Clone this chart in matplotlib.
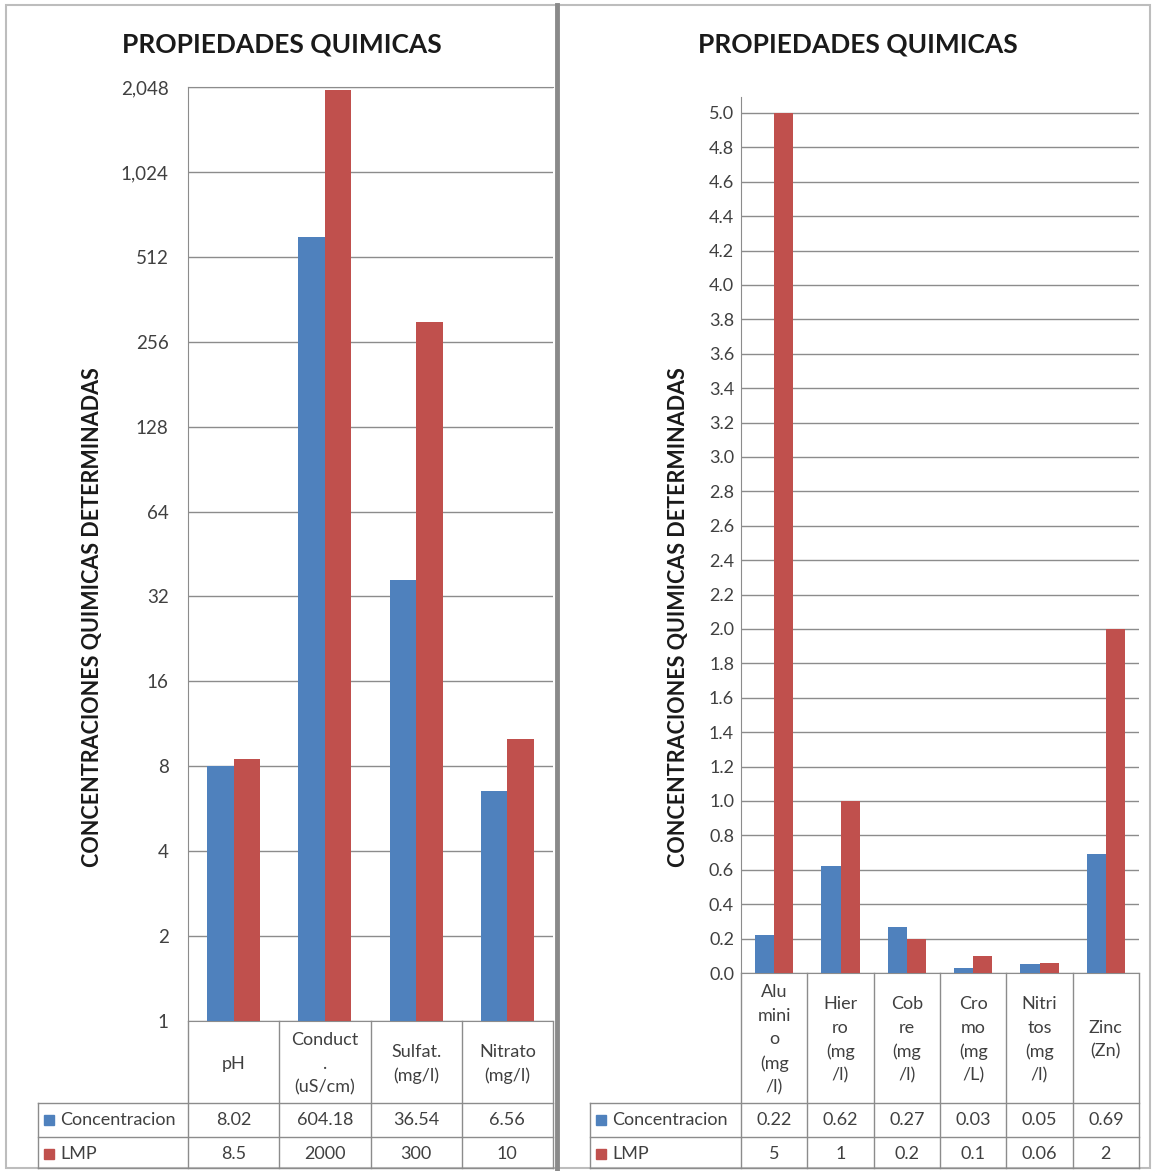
import matplotlib
matplotlib.use("Agg")
import matplotlib.pyplot as plt
from matplotlib.lines import Line2D
from matplotlib.patches import Rectangle
from matplotlib.ticker import FixedLocator, FuncFormatter

plt.rcParams["font.family"] = ["Lato", "DejaVu Sans"]

# data: left chart (log scale)
cats_left = ["pH", "Conduct\n.\n(uS/cm)", "Sulfat.\n(mg/l)", "Nitrato\n(mg/l)"]
conc_left = [8.02, 604.18, 36.54, 6.56]
lmp_left = [8.5, 2000, 300, 10]
conc_left_txt = ["8.02", "604.18", "36.54", "6.56"]
lmp_left_txt = ["8.5", "2000", "300", "10"]

# data: right chart (linear scale)
cats_right = ["Alu\nmini\no\n(mg\n/l)", "Hier\nro\n(mg\n/l)", "Cob\nre\n(mg\n/l)",
              "Cro\nmo\n(mg\n/L)", "Nitri\ntos\n(mg\n/l)", "Zinc\n(Zn)"]
conc_right = [0.22, 0.62, 0.27, 0.03, 0.05, 0.69]
lmp_right = [5, 1, 0.2, 0.1, 0.06, 2]
conc_right_txt = ["0.22", "0.62", "0.27", "0.03", "0.05", "0.69"]
lmp_right_txt = ["5", "1", "0.2", "0.1", "0.06", "2"]

series_names = ["Concentracion", "LMP"]
BLUE = "#4F81BD"
RED = "#C0504D"
GRID = "#8C8C8C"
TXT = "#404040"

W, H = 1154, 1171
fig = plt.figure(figsize=(W / 100, H / 100), dpi=100)


def fx(px):
    return px / W


def fy(py):
    return 1 - py / H


def line(x0, y0, x1, y1, color=GRID, lw=1.0):
    fig.add_artist(Line2D([fx(x0), fx(x1)], [fy(y0), fy(y1)], color=color, lw=lw))


def bar_chart(rect, conc, lmp):
    ax = fig.add_axes(rect)
    n = len(conc)
    xs = range(n)
    w = 0.29
    ax.bar([x - w / 2 for x in xs], conc, width=w, color=BLUE, zorder=3)
    ax.bar([x + w / 2 for x in xs], lmp, width=w, color=RED, zorder=3)
    ax.set_xlim(-0.5, n - 0.5)
    ax.set_xticks([])
    for s in ["top", "right"]:
        ax.spines[s].set_visible(False)
    ax.spines["left"].set_color(GRID)
    ax.spines["bottom"].set_color(GRID)
    ax.yaxis.grid(True, color=GRID, lw=1.0, zorder=0)
    ax.tick_params(axis="y", length=0, colors=TXT)
    return ax


def data_table(ax, cats, conc_txt, lmp_txt, left_px, head_top, head_bot, row_h, bottom, fs):
    pos = ax.get_position()
    x0 = pos.x0 * W
    x1 = pos.x1 * W
    n = len(cats)
    cw = (x1 - x0) / n
    # column dividers
    for i in range(n + 1):
        line(x0 + i * cw, head_top, x0 + i * cw, bottom)
    line(left_px, head_bot, left_px, bottom)
    for yy in [head_bot, head_bot + row_h, bottom]:
        line(left_px, yy, x1, yy)
    # header cells
    for i, c in enumerate(cats):
        fig.text(fx(x0 + (i + 0.5) * cw), fy((head_top + head_bot) / 2 + 2), c,
                 ha="center", va="center", fontsize=fs, color=TXT, linespacing=1.58)
    # value rows with legend keys
    rows = [(series_names[0], BLUE, conc_txt), (series_names[1], RED, lmp_txt)]
    for r, (name, col, vals) in enumerate(rows):
        yc = head_bot + (r + 0.5) * row_h
        fig.add_artist(Rectangle((fx(left_px + 6), fy(yc + 5)), 10 / W, 10 / H,
                                 color=col, transform=fig.transFigure))
        fig.text(fx(left_px + 22), fy(yc), name, ha="left", va="center",
                 fontsize=fs, color=TXT)
        for i, v in enumerate(vals):
            fig.text(fx(x0 + (i + 0.5) * cw), fy(yc), v, ha="center", va="center",
                     fontsize=fs, color=TXT)


# left chart
axl = bar_chart([fx(188), fy(1021), fx(553) - fx(188), fy(87) - fy(1021)], conc_left, lmp_left)
axl.set_yscale("log", base=2)
axl.set_ylim(1, 2048)
axl.yaxis.set_major_locator(FixedLocator([2 ** k for k in range(12)]))
axl.yaxis.set_minor_locator(FixedLocator([]))
axl.yaxis.set_major_formatter(FuncFormatter(lambda v, p: f"{int(round(v)):,}"))
axl.tick_params(axis="y", labelsize=13.5, pad=14)
axl.spines["top"].set_visible(True)
axl.spines["top"].set_color(GRID)

# right chart
axr = bar_chart([fx(741), fy(973), fx(1139) - fx(741), fy(97) - fy(973)], conc_right, lmp_right)
axr.set_ylim(0, 5.093)
axr.yaxis.set_major_locator(FixedLocator([k * 0.2 for k in range(26)]))
axr.yaxis.set_major_formatter(FuncFormatter(lambda v, p: f"{v:.1f}"))
axr.tick_params(axis="y", labelsize=13, pad=5)

# titles and axis labels
for xc in [282, 858]:
    fig.text(fx(xc), fy(45), "PROPIEDADES QUIMICAS", ha="center", va="center",
             fontsize=19, fontweight="bold", color="#1a1a1a")
for xc in [93, 678]:
    fig.text(fx(xc), fy(617), "CONCENTRACIONES QUIMICAS DETERMINADAS", ha="center",
             va="center", rotation=90, fontsize=15.5, fontweight="bold", color="#1a1a1a")

# tables under the charts
data_table(axl, cats_left, conc_left_txt, lmp_left_txt, 38, 1021, 1103, 34, 1168, 13)
data_table(axr, cats_right, conc_right_txt, lmp_right_txt, 590, 973, 1103, 34, 1168, 13)

# panel frames
fig.add_artist(Rectangle((fx(6), fy(1168)), fx(1150) - fx(6), fy(5) - fy(1168),
                         fill=False, edgecolor="#BDBDBD", lw=1.5, transform=fig.transFigure))
line(557, 5, 557, 1171, color="#8A8A8A", lw=3.5)

fig.savefig("out.png", dpi=100)
